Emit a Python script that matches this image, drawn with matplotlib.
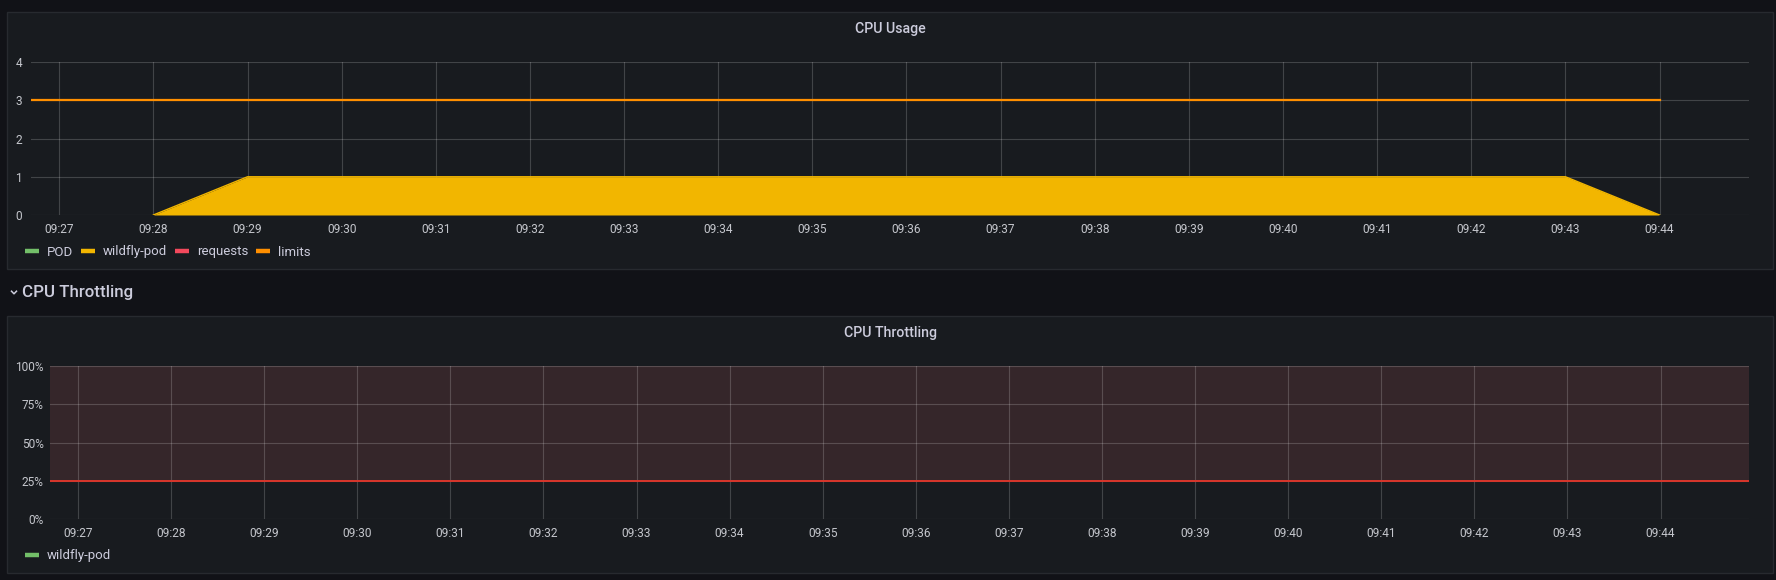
import matplotlib
matplotlib.use("Agg")
import matplotlib.pyplot as plt
import matplotlib.dates as mdates
from matplotlib.patches import Rectangle
from matplotlib.lines import Line2D
from matplotlib.ticker import PercentFormatter, FixedLocator
import pandas as pd

# ---------------- data ----------------
DAY = "2024-01-01 "
range_start = "09:26:42"
range_end = "09:44:57"

usage_title = "CPU Usage"
usage_series = ["POD", "wildfly-pod", "requests", "limits"]
pod_times = []
pod_cpu = []
wildfly_times = ["09:28", "09:29", "09:30", "09:31", "09:32", "09:33", "09:34", "09:35",
                 "09:36", "09:37", "09:38", "09:39", "09:40", "09:41", "09:42", "09:43", "09:44"]
wildfly_cpu = [0, 1, 1, 1, 1, 1, 1, 1, 1, 1, 1, 1, 1, 1, 1, 1, 0]
requests_times = []
requests_cpu = []
limits_times = ["09:26", "09:27", "09:28", "09:29", "09:30", "09:31", "09:32", "09:33", "09:34",
                "09:35", "09:36", "09:37", "09:38", "09:39", "09:40", "09:41", "09:42", "09:43", "09:44"]
limits_cpu = [3, 3, 3, 3, 3, 3, 3, 3, 3, 3, 3, 3, 3, 3, 3, 3, 3, 3, 3]
usage_yticks = [0, 1, 2, 3, 4]

section_title = "CPU Throttling"
throttle_title = "CPU Throttling"
throttle_series = ["wildfly-pod"]
throttle_times = []
throttle_vals = []
throttle_threshold = 0.25
throttle_yticks = [0, 0.25, 0.5, 0.75, 1.0]

# ---------------- style ----------------
W, H, DPI = 1776, 580, 100
BG = "#111217"
PANEL = "#181b1f"
BORDER = "#272a2f"
TEXT = "#ccccdc"
TICK = "#c4c6cc"
GREEN = "#73bf69"
YELLOW = "#f2b600"
RED = "#f2495c"
ORANGE = "#ff8f00"
THR_FILL = "#35262a"
THR_LINE = "#d9362b"

plt.rcParams["font.family"] = ["Roboto", "DejaVu Sans"]


def t(s):
    return pd.Timestamp(DAY + s)


def ts(lst):
    return [t(s) for s in lst]


def rect(l, top, r, b):
    return [l / W, 1 - b / H, (r - l) / W, (b - top) / H]


fig = plt.figure(figsize=(W / DPI, H / DPI), dpi=DPI, facecolor=BG)

# panels
for (l, top, r, b) in [(7, 12, 1773, 269), (7, 316, 1773, 573)]:
    fig.add_artist(Rectangle((l / W, 1 - b / H), (r - l) / W, (b - top) / H,
                             transform=fig.transFigure, facecolor=PANEL,
                             edgecolor=BORDER, linewidth=1.0, zorder=0))


def style_axes(ax, ypad):
    ax.set_facecolor("none")
    for sp in ax.spines.values():
        sp.set_visible(False)
    ax.set_axisbelow(True)
    ax.grid(True, color="white", alpha=0.18, linewidth=0.8)
    ax.tick_params(length=0, colors=TICK, labelsize=8.6)
    ax.tick_params(axis="x", pad=5.5)
    ax.tick_params(axis="y", pad=ypad)
    ax.xaxis.set_major_locator(mdates.MinuteLocator())
    ax.xaxis.set_major_formatter(mdates.DateFormatter("%H:%M"))
    ax.set_xlim(t(range_start), t(range_end))


# ---------- CPU Usage ----------
ax1 = fig.add_axes(rect(31, 62, 1749, 215))
style_axes(ax1, 6.5)
ax1.set_ylim(0, 4)
ax1.yaxis.set_major_locator(FixedLocator(usage_yticks))
h_pod, = ax1.plot(ts(pod_times), pod_cpu, color=GREEN, lw=1, label=usage_series[0])
ax1.fill_between(ts(wildfly_times), wildfly_cpu, 0, color=YELLOW, linewidth=0, zorder=2)
h_wf, = ax1.plot(ts(wildfly_times), wildfly_cpu, color=YELLOW, lw=1, zorder=3, label=usage_series[1])
h_req, = ax1.plot(ts(requests_times), requests_cpu, color=RED, lw=1, label=usage_series[2])
h_lim, = ax1.plot(ts(limits_times), limits_cpu, color=ORANGE, lw=1.6, zorder=4, label=usage_series[3])

fig.text(890 / W, 1 - 29 / H, usage_title, ha="center", va="center",
         color=TEXT, fontsize=10.2, fontweight="medium")


def legend(handles, y):
    proxies = [Line2D([], [], color=h.get_color(), lw=3.2, solid_capstyle="butt") for h in handles]
    lg = fig.legend(proxies, [h.get_label() for h in handles], loc="center left",
                    bbox_to_anchor=(25 / W, 1 - y / H), ncol=len(handles), frameon=False,
                    fontsize=9.5, handlelength=1.05, handletextpad=0.6,
                    columnspacing=0.6, borderpad=0, borderaxespad=0)
    for txt in lg.get_texts():
        txt.set_color(TEXT)


legend([h_pod, h_wf, h_req, h_lim], 252)

# ---------- section header ----------
fig.add_artist(Line2D([11.5 / W, 14 / W, 16.5 / W],
                      [1 - 291.2 / H, 1 - 293.8 / H, 1 - 291.2 / H],
                      transform=fig.transFigure, color=TEXT, lw=1.1))
fig.text(22 / W, 1 - 293 / H, section_title, ha="left", va="center",
         color=TEXT, fontsize=12.2, fontweight="medium")

# ---------- CPU Throttling ----------
ax2 = fig.add_axes(rect(50, 366, 1749, 519.3))
style_axes(ax2, 4.5)
ax2.set_ylim(0, 1)
ax2.yaxis.set_major_locator(FixedLocator(throttle_yticks))
ax2.yaxis.set_major_formatter(PercentFormatter(1.0, decimals=0))
ax2.axhspan(throttle_threshold, 1.0, color=THR_FILL, linewidth=0, zorder=0.2)
ax2.axhline(throttle_threshold, color=THR_LINE, lw=1.4, zorder=3)
h_thr, = ax2.plot(ts(throttle_times), throttle_vals, color=GREEN, lw=1, label=throttle_series[0])

fig.text(890 / W, 1 - 333 / H, throttle_title, ha="center", va="center",
         color=TEXT, fontsize=10.2, fontweight="medium")
legend([h_thr], 556)

fig.savefig("out.png", dpi=DPI, facecolor=BG)
